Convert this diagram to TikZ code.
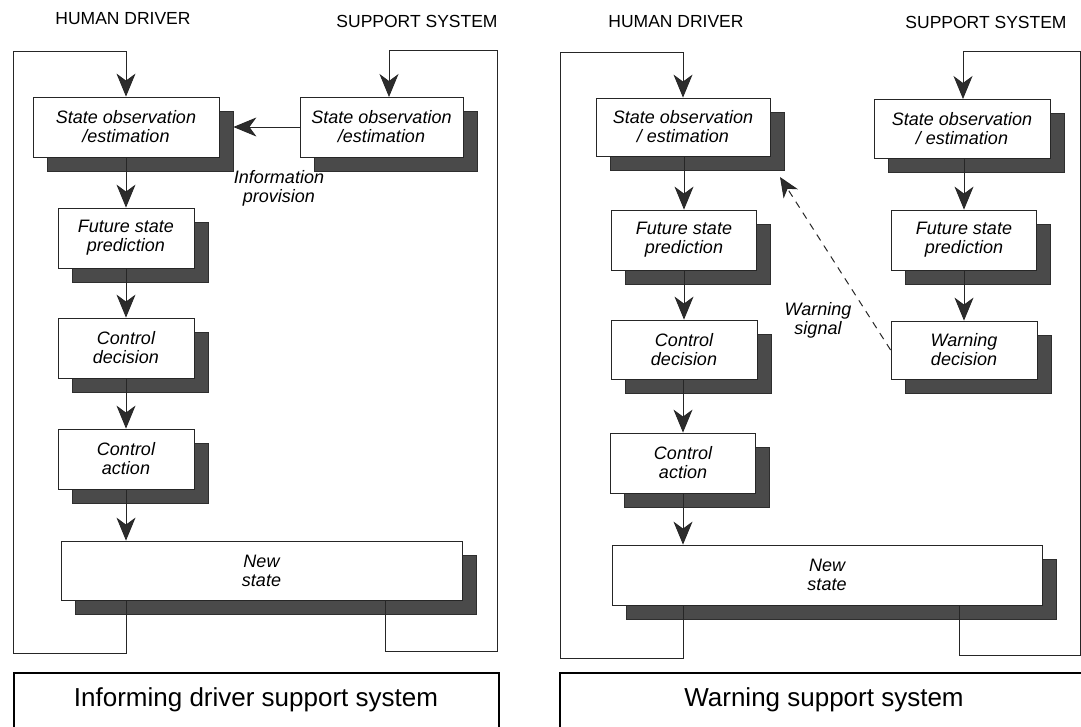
\documentclass[tikz,border=0pt]{standalone}
\usepackage{fontspec}
\setmainfont{Liberation Sans}
\usetikzlibrary{arrows.meta,shadows,calc}
\definecolor{inkc}{HTML}{262626}
\definecolor{headc}{HTML}{2C2C2C}
\definecolor{shadowc}{HTML}{4A4A4A}
\definecolor{shadowd}{HTML}{2E2E2E}
\tikzset{
  procbox/.style={draw=inkc, line width=0.8pt, fill=white, inner sep=0pt,
    align=center, font=\fontsize{18}{19}\selectfont\itshape,
    drop shadow={shadow xshift=14pt, shadow yshift=-14pt, fill=shadowc,
      draw=shadowd, line width=0.8pt, opacity=1}},
  flow/.style={draw=inkc, line width=0.8pt},
  flowarr/.style={flow, -{Stealth[length=23pt, width=19pt, inset=7pt, fill=headc]}},
  warnarr/.style={flow, line width=1pt, dash pattern=on 7pt off 6pt,
    -{Stealth[length=20pt, width=17pt, inset=6pt, fill=headc]}},
  header/.style={font=\fontsize{17.5}{20}\selectfont, inner sep=0pt},
  edgelabel/.style={font=\fontsize{18}{19}\selectfont\itshape, align=center, inner sep=0pt},
  titlebox/.style={draw=black, line width=1.6pt},
  titletext/.style={font=\fontsize{26}{28}\selectfont, inner sep=0pt}
}
\begin{document}
\begin{tikzpicture}[x=1pt, y=-1pt]
\useasboundingbox (0,0) rectangle (1081,727);

% ---------------- Informing driver support system ----------------
\node[header] (hdL) at (123,19) {HUMAN DRIVER};
\node[header] (ssL) at (417,21) {SUPPORT SYSTEM};

\node[procbox, minimum width=186pt, minimum height=60pt] (b1) at (126,127) {State observation\\/estimation};
\node[procbox, minimum width=163pt, minimum height=60pt] (b2) at (381.5,127) {State observation\\/estimation};
\node[procbox, minimum width=136pt, minimum height=60pt] (b3) at (126,238) {Future state\\prediction};
\node[procbox, minimum width=136pt, minimum height=60pt] (b4) at (126,348) {Control\\decision};
\node[procbox, minimum width=136pt, minimum height=60pt] (b5) at (126,459) {Control\\action};
\node[procbox, minimum width=401pt, minimum height=59pt] (b6) at (261.5,570.5) {New\\state};

\coordinate (b1sh) at ([xshift=14pt]b1.east);
\coordinate (l1) at (126,653);
\coordinate (l2) at (13,653);
\coordinate (l3) at (13,51);
\coordinate (l4) at (126,51);
\coordinate (r1c) at (385,651);
\coordinate (r2c) at (497,651);
\coordinate (r3c) at (497,50);
\coordinate (r4c) at (389,50);
\coordinate (r5c) at (389,97);

\draw[flowarr] (b1.south) -- (b3.north);
\draw[flowarr] (b3.south) -- (b4.north);
\draw[flowarr] (b4.south) -- (b5.north);
\draw[flowarr] (b5.south) -- (b5.south |- b6.north);
\draw[flowarr] (b2.west) -- (b1sh);
\draw[flowarr] (b5.south |- b6.south) -- (l1) -- (l2) -- (l3) -- (l4) -- (b1.north);
\draw[flowarr] (r1c |- b6.south) -- (r1c) -- (r2c) -- (r3c) -- (r4c) -- (r5c);

\node[edgelabel] (info) at (279,188) {Information\\provision};

\draw[titlebox] (14,673) rectangle (499,745);
\node[titletext] (tL) at (256,700) {Informing driver support system};

% ---------------- Warning support system ----------------
\node[header] (hdR) at (676,22) {HUMAN DRIVER};
\node[header] (ssR) at (986,22) {SUPPORT SYSTEM};

\node[procbox, minimum width=174pt, minimum height=58pt] (w1) at (683,127) {State observation\\/ estimation};
\node[procbox, minimum width=176pt, minimum height=59pt] (w2) at (962,128.5) {State observation\\/ estimation};
\node[procbox, minimum width=145pt, minimum height=60pt] (w3) at (684,240) {Future state\\prediction};
\node[procbox, minimum width=146pt, minimum height=59pt] (w4) at (684,349.5) {Control\\decision};
\node[procbox, minimum width=145pt, minimum height=60pt] (w5) at (683,463) {Control\\action};
\node[procbox, minimum width=430pt, minimum height=60pt] (w6) at (827,575) {New\\state};
\node[procbox, minimum width=145pt, minimum height=60pt] (w7) at (964,240) {Future state\\prediction};
\node[procbox, minimum width=146pt, minimum height=58pt] (w8) at (964,350) {Warning\\decision};

\coordinate (wtip) at (780,177);
\coordinate (m1) at (683,658);
\coordinate (m2) at (560,658);
\coordinate (m3) at (560,52);
\coordinate (m4) at (683,52);
\coordinate (n1) at (959,655);
\coordinate (n2) at (1080,655);
\coordinate (n3) at (1080,51);
\coordinate (n4) at (963,51);
\coordinate (n5) at (963,99);

\draw[flowarr] (w1.south -| w3.north) -- (w3.north);
\draw[flowarr] (w3.south) -- (w3.south |- w4.north);
\draw[flowarr] (w4.south -| w5.north) -- (w5.north);
\draw[flowarr] (w5.south) -- (w5.south |- w6.north);
\draw[flowarr] (w2.south -| w7.north) -- (w7.north);
\draw[flowarr] (w7.south) -- (w8.north);
\draw[warnarr] (w8.west) -- (wtip);
\draw[flowarr] (w5.south |- w6.south) -- (m1) -- (m2) -- (m3) -- (m4) -- (w1.north);
\draw[flowarr] (n1 |- w6.south) -- (n1) -- (n2) -- (n3) -- (n4) -- (n5);

\node[edgelabel] (warn) at (818,320) {Warning\\signal};

\draw[titlebox] (560,673) rectangle (1100,745);
\node[titletext] (tR) at (824,700) {Warning support system};
\end{tikzpicture}
\end{document}
